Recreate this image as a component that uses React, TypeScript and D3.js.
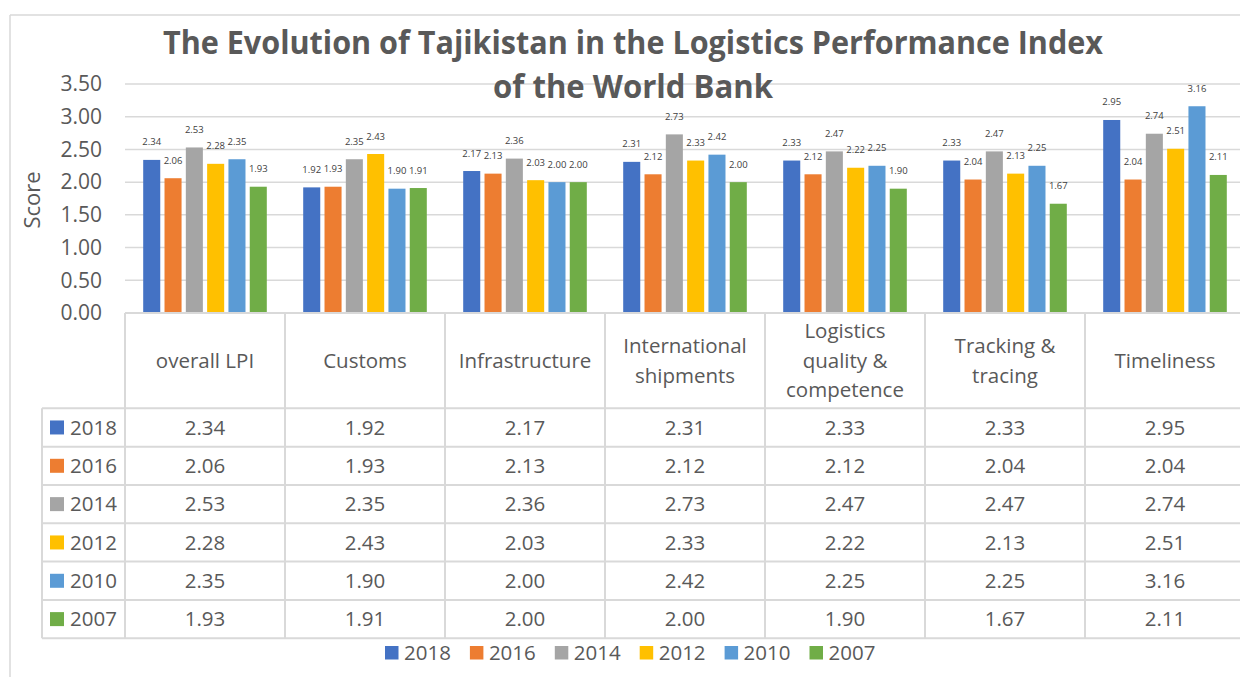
import React, { useRef, useEffect } from 'react';
import * as d3 from 'd3';

const categories = ['overall LPI', 'Customs', 'Infrastructure', 'International shipments', 'Logistics quality & competence', 'Tracking & tracing', 'Timeliness'];
const headerLines = [['overall LPI'], ['Customs'], ['Infrastructure'], ['International', 'shipments'], ['Logistics', 'quality &', 'competence'], ['Tracking &', 'tracing'], ['Timeliness']];
const years = ['2018', '2016', '2014', '2012', '2010', '2007'];
const v2018 = [2.34, 1.92, 2.17, 2.31, 2.33, 2.33, 2.95];
const v2016 = [2.06, 1.93, 2.13, 2.12, 2.12, 2.04, 2.04];
const v2014 = [2.53, 2.35, 2.36, 2.73, 2.47, 2.47, 2.74];
const v2012 = [2.28, 2.43, 2.03, 2.33, 2.22, 2.13, 2.51];
const v2010 = [2.35, 1.90, 2.00, 2.42, 2.25, 2.25, 3.16];
const v2007 = [1.93, 1.91, 2.00, 2.00, 1.90, 1.67, 2.11];
const yTicks = [0, 0.5, 1, 1.5, 2, 2.5, 3, 3.5];
const colors = ['#4472C4', '#ED7D31', '#A5A5A5', '#FFC000', '#5B9BD5', '#70AD47'];

const FONT = '"Open Sans", "Noto Sans", sans-serif';
const TEXT = '#595959';
const GRID = '#d9d9d9';

export default function App() {
    const svg_ref = useRef<SVGSVGElement>(null);
    useEffect(() => {
        d3.select(svg_ref.current).selectAll('*').remove();
        draw(svg_ref.current);
    }, []);
    return (
        <svg ref={svg_ref} width={1240} height={677}
            style={{ position: 'absolute', left: 0, top: 0, background: '#fff' }} />
    );
}

function draw(node) {
    const series = [v2018, v2016, v2014, v2012, v2010, v2007];
    const svg = d3.select(node).style('font-family', FONT);

    const plot = { l: 125, r: 1245, t: 84, b: 313 };
    const tableLeft = 42;
    const headerBottom = 408.3;
    const rowH = 38.33;

    // chart frame
    svg.append('line').attr('x1', 10).attr('x2', 10).attr('y1', 15).attr('y2', 677)
        .attr('stroke', GRID).attr('stroke-width', 1.5);
    svg.append('line').attr('x1', 10).attr('x2', 1240).attr('y1', 15).attr('y2', 15)
        .attr('stroke', GRID).attr('stroke-width', 1.5);

    const x0 = d3.scaleBand().domain(categories).range([plot.l, plot.r]).padding(0);
    const x1 = d3.scaleBand().domain(years).range([18.2, 141.8]).paddingInner(0.2).paddingOuter(0);
    const y = d3.scaleLinear().domain([0, 3.5]).range([plot.b, plot.t]);

    // gridlines
    svg.append('g').selectAll('line').data(yTicks.slice(1)).join('line')
        .attr('x1', plot.l).attr('x2', plot.r)
        .attr('y1', d => y(d)).attr('y2', d => y(d))
        .attr('stroke', GRID).attr('stroke-width', 1.5);

    // y axis labels
    svg.append('g').selectAll('text').data(yTicks).join('text')
        .attr('x', 102).attr('y', d => y(d)).attr('dy', '0.35em')
        .attr('text-anchor', 'end').attr('font-size', 21).attr('fill', TEXT)
        .text(d => d3.format('.2f')(d));

    svg.append('text')
        .attr('transform', 'translate(40,200) rotate(-90)')
        .attr('text-anchor', 'middle').attr('font-size', 22).attr('fill', TEXT)
        .text('Score');

    // bars
    const groups = svg.append('g').selectAll('g').data(categories).join('g')
        .attr('transform', d => `translate(${x0(d)},0)`);
    groups.selectAll('rect')
        .data((c, ci) => years.map((yr, si) => ({ yr, si, v: series[si][ci] })))
        .join('rect')
        .attr('x', d => x1(d.yr)).attr('width', x1.bandwidth())
        .attr('y', d => y(d.v)).attr('height', d => y(0) - y(d.v))
        .attr('fill', d => colors[d.si]);
    groups.selectAll('text')
        .data((c, ci) => years.map((yr, si) => ({ yr, si, v: series[si][ci] })))
        .join('text')
        .attr('x', d => x1(d.yr) + x1.bandwidth() / 2).attr('y', d => y(d.v) - 14.5)
        .attr('text-anchor', 'middle').attr('font-size', 9.5).attr('fill', '#404040')
        .text(d => d3.format('.2f')(d.v));

    // data table
    const tbl = svg.append('g');
    const tableBottom = headerBottom + rowH * years.length;
    tbl.append('line').attr('x1', plot.l).attr('x2', plot.r).attr('y1', plot.b).attr('y2', plot.b)
        .attr('stroke', GRID).attr('stroke-width', 2);
    tbl.selectAll('line.v').data(categories).join('line').attr('class', 'v')
        .attr('x1', d => x0(d)).attr('x2', d => x0(d))
        .attr('y1', plot.b).attr('y2', tableBottom)
        .attr('stroke', GRID).attr('stroke-width', 2);
    tbl.append('line').attr('x1', tableLeft).attr('x2', tableLeft).attr('y1', headerBottom).attr('y2', tableBottom)
        .attr('stroke', GRID).attr('stroke-width', 2);
    tbl.selectAll('line.h').data(d3.range(years.length + 1)).join('line').attr('class', 'h')
        .attr('x1', tableLeft).attr('x2', plot.r)
        .attr('y1', i => headerBottom + i * rowH).attr('y2', i => headerBottom + i * rowH)
        .attr('stroke', GRID).attr('stroke-width', 2);

    // header labels
    const hdr = tbl.selectAll('text.hdr').data(categories).join('text').attr('class', 'hdr')
        .attr('text-anchor', 'middle').attr('font-size', 20.5).attr('fill', TEXT);
    hdr.each(function (d, i) {
        const lines = headerLines[i];
        const cx = x0(d) + x0.bandwidth() / 2;
        const mid = (plot.b + headerBottom) / 2;
        d3.select(this).selectAll('tspan').data(lines).join('tspan')
            .attr('x', cx)
            .attr('y', (l, j) => mid + (j - (lines.length - 1) / 2) * 29.5)
            .attr('dy', '0.35em')
            .text(l => l);
    });

    // rows
    years.forEach((yr, si) => {
        const cy = headerBottom + rowH * si + rowH / 2;
        tbl.append('rect').attr('x', 50).attr('y', cy - 7).attr('width', 14).attr('height', 14)
            .attr('fill', colors[si]);
        tbl.append('text').attr('x', 70).attr('y', cy).attr('dy', '0.35em')
            .attr('font-size', 20.5).attr('fill', TEXT).text(yr);
        tbl.append('g').selectAll('text').data(categories).join('text')
            .attr('x', d => x0(d) + x0.bandwidth() / 2).attr('y', cy).attr('dy', '0.35em')
            .attr('text-anchor', 'middle').attr('font-size', 20.5).attr('fill', TEXT)
            .text((d, ci) => d3.format('.2f')(series[si][ci]));
    });

    // legend
    const leg = svg.append('g').selectAll('g').data(years).join('g')
        .attr('transform', (d, i) => `translate(${385 + i * 84.9},653)`);
    leg.append('rect').attr('x', 0).attr('y', -7).attr('width', 13.5).attr('height', 13.5)
        .attr('fill', (d, i) => colors[i]);
    leg.append('text').attr('x', 19).attr('y', 0).attr('dy', '0.35em')
        .attr('font-size', 20.5).attr('fill', TEXT).text(d => d);

    // title
    const title = svg.append('g').attr('font-weight', 'bold').attr('fill', TEXT)
        .attr('text-anchor', 'middle').attr('font-size', 32);
    title.append('text').attr('x', 633).attr('y', 54)
        .attr('textLength', 940).attr('lengthAdjust', 'spacingAndGlyphs')
        .text('The Evolution of Tajikistan in the Logistics Performance Index');
    title.append('text').attr('x', 633).attr('y', 98)
        .attr('textLength', 280).attr('lengthAdjust', 'spacingAndGlyphs')
        .text('of the World Bank');
}
